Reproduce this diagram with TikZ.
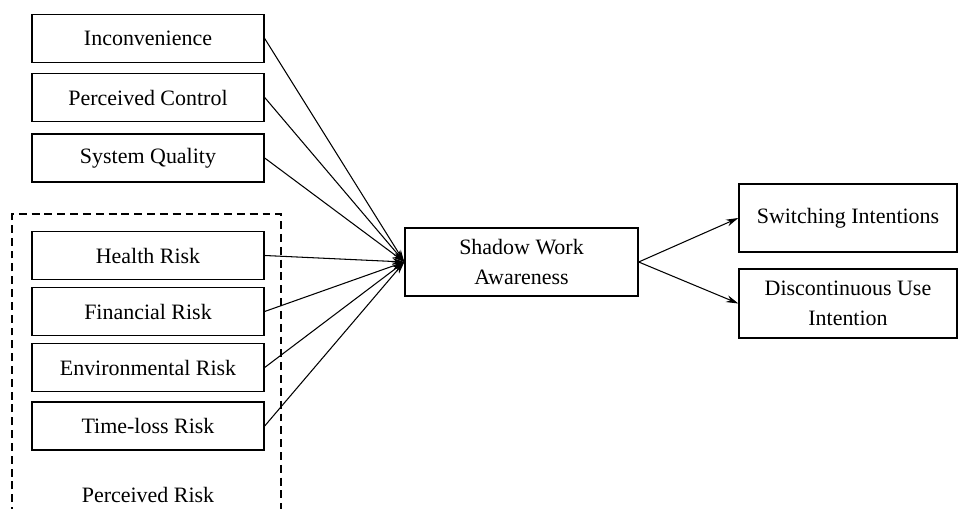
\documentclass[tikz,border=0pt]{standalone}
\usepackage{fontspec}
\setmainfont{Liberation Serif}
\usetikzlibrary{arrows.meta}
\tikzset{
  factor/.style={draw, line width=0.8pt, minimum width=4.64cm, minimum height=0.96cm, inner sep=1pt, font=\fontsize{12.5}{17}\selectfont},
  outcome/.style={draw, line width=0.8pt, minimum width=4.36cm, minimum height=1.36cm, align=center, font=\fontsize{12.5}{17}\selectfont},
  link/.style={line width=0.6pt, -{Stealth[length=7pt,width=4pt]}}
}

\begin{document}
\begin{tikzpicture}[x=0.02cm,y=-0.02cm]
        \useasboundingbox (0,0) rectangle (964,509);
        %factors
        \node[factor] (inc) at (148,38.5) {Inconvenience};
        \node[factor] (pc) at (148,97.5) {Perceived Control};
        \node[factor] (sq) at (148,158) {System Quality};
        %perceived risk group
        \node[factor] (hr) at (148,255.5) {Health Risk};
        \node[factor] (fr) at (148,311.5) {Financial Risk};
        \node[factor] (er) at (148,367.5) {Environmental Risk};
        \node[factor] (tr) at (148,426) {Time-loss Risk};
        \node[font=\fontsize{12.5}{15}\selectfont] (risk) at (148,495) {Perceived Risk};
        \draw[line width=1.2pt, dash pattern=on 4.5pt off 2.8pt] (12,515) |- (281,214) -- (281,515);

        \node[factor, minimum width=4.66cm, minimum height=1.36cm, align=center] (sw) at (521.5,262) {Shadow Work\\Awareness};
        \node[outcome] (si) at (848,218) {Switching Intentions};
        \node[outcome, minimum height=1.38cm] (du) at (848,303.5) {Discontinuous Use\\Intention};

        \foreach \src in {inc,pc,sq,hr,fr,er,tr}
        \draw[link] (\src.east) -- (sw.west);
        \draw[link] (sw.east) -- (si.west);
        \draw[link] (sw.east) -- (du.west);
\end{tikzpicture}
\end{document}
